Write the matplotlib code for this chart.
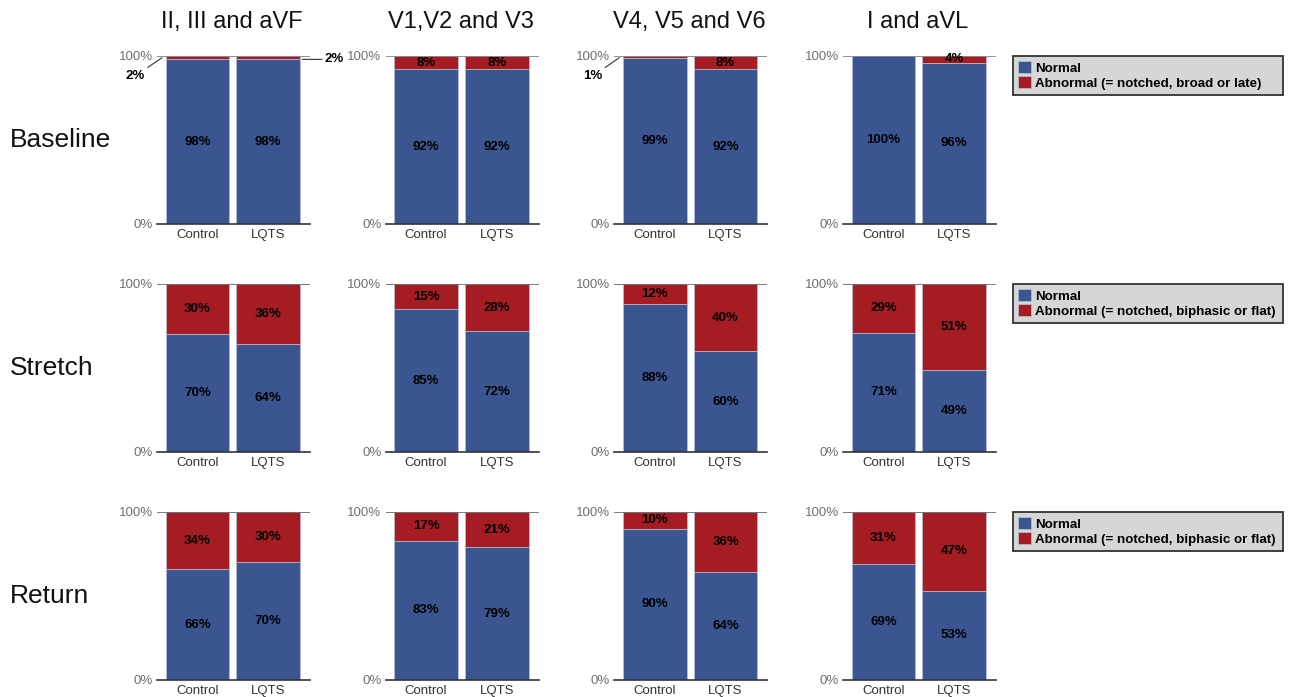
import numpy as np
import matplotlib.pyplot as plt

plt.rcParams['font.family'] = ['Liberation Sans', 'DejaVu Sans']

# ---------------- data ----------------
leads = ["II, III and aVF", "V1,V2 and V3", "V4, V5 and V6", "I and aVL"]
phases = ["Baseline", "Stretch", "Return"]
groups = ["Control", "LQTS"]

# abnormal % per phase, per lead group, [Control, LQTS]
abnormal_baseline = [[2, 2], [8, 8], [1, 8], [0, 4]]
abnormal_stretch = [[30, 36], [15, 28], [12, 40], [29, 51]]
abnormal_return = [[34, 30], [17, 21], [10, 36], [31, 47]]

normal_baseline = [[98, 98], [92, 92], [99, 92], [100, 96]]
normal_stretch = [[70, 64], [85, 72], [88, 60], [71, 49]]
normal_return = [[66, 70], [83, 79], [90, 64], [69, 53]]

abnormal = [abnormal_baseline, abnormal_stretch, abnormal_return]
normal = [normal_baseline, normal_stretch, normal_return]

legend_abn = ["Abnormal (= notched, broad or late)",
              "Abnormal (= notched, biphasic or flat)",
              "Abnormal (= notched, biphasic or flat)"]

blue = '#3a5590'
red = '#a51d23'

W, H = 1292, 697
fig = plt.figure(figsize=(W / 100, H / 100), dpi=100)

def px(left, top, w, h):
    return [left / W, (H - top - h) / H, w / W, h / H]

x = np.arange(len(groups))
for r in range(3):
    for c in range(4):
        left = 157 + 228.7 * c
        top = 56 + 228 * r
        ax = fig.add_axes(px(left, top, 153, 168))
        nv = np.array(normal[r][c])
        av = np.array(abnormal[r][c])
        ax.bar(x, nv, width=0.9, color=blue, edgecolor='#b8c2d8', linewidth=0.5)
        ax.bar(x, av, bottom=nv, width=0.9, color=red, edgecolor='#b8c2d8', linewidth=0.5)
        ax.axhline(100, color='#808080' if r == 0 else '#666666', lw=1.2, zorder=3)
        ax.set_xlim(-0.57, 1.59)
        ax.set_ylim(0, 100)
        for s in ['top', 'right', 'left']:
            ax.spines[s].set_visible(False)
        ax.spines['bottom'].set_color('#333333')
        ax.spines['bottom'].set_linewidth(1.2)
        ax.set_yticks([0, 100])
        ax.set_yticklabels(['0%', '100%'], fontsize=9.5, color='#707070')
        ax.tick_params(axis='y', length=0, pad=3)
        ax.set_xticks(x)
        ax.set_xticklabels(groups, fontsize=9.5, color='#333333')
        ax.tick_params(axis='x', length=0, pad=3.5)

        for i in range(2):
            ax.text(x[i], nv[i] / 2, f"{nv[i]}%", ha='center', va='center',
                    fontsize=9.5, fontweight='bold', color='black')
            if av[i] >= 3:
                ax.text(x[i], nv[i] + av[i] / 2, f"{av[i]}%", ha='center', va='center',
                        fontsize=9.5, fontweight='bold', color='black')
            elif av[i] > 0:
                if i == 0:
                    ax.annotate(f"{av[i]}%", xy=(-0.5, 99), xytext=(-0.74, 88),
                                ha='right', va='center', fontsize=9.5, fontweight='bold',
                                annotation_clip=False,
                                arrowprops=dict(arrowstyle='-', color='#333333', lw=0.8,
                                                shrinkA=0, shrinkB=0))
                else:
                    ax.annotate(f"{av[i]}%", xy=(1.48, 98), xytext=(1.8, 98),
                                ha='left', va='center', fontsize=9.5, fontweight='bold',
                                annotation_clip=False,
                                arrowprops=dict(arrowstyle='-', color='#333333', lw=0.8,
                                                shrinkA=0, shrinkB=0))

    fig.text(10 / W, 1 - (140 + 228 * r) / H, phases[r], fontsize=19,
             ha='left', va='center', color='#111111')

    hs = [plt.Rectangle((0, 0), 1, 1, fc=blue, ec='#b8c2d8', lw=0.5),
          plt.Rectangle((0, 0), 1, 1, fc=red, ec='#b8c2d8', lw=0.5)]
    top_px = 56 + 228 * r
    leg = fig.legend(hs, ["Normal", legend_abn[r]], loc='upper left', mode='expand',
                     bbox_to_anchor=(1013 / W, 1 - (top_px + 39) / H, 270 / W, 39 / H),
                     prop={'weight': 'bold', 'size': 9.6}, frameon=True,
                     fancybox=False, facecolor='#d6d6d6', edgecolor='#333333',
                     framealpha=1, handlelength=0.95, handleheight=0.95,
                     handletextpad=0.3, borderpad=0.4, labelspacing=0.12,
                     borderaxespad=0)
    leg.get_frame().set_linewidth(1.3)

for c in range(4):
    fig.text((232 + 228.7 * c) / W, 1 - 22 / H, leads[c], fontsize=17,
             ha='center', va='center', color='#111111')

fig.savefig('out.png', dpi=100, facecolor='white')
